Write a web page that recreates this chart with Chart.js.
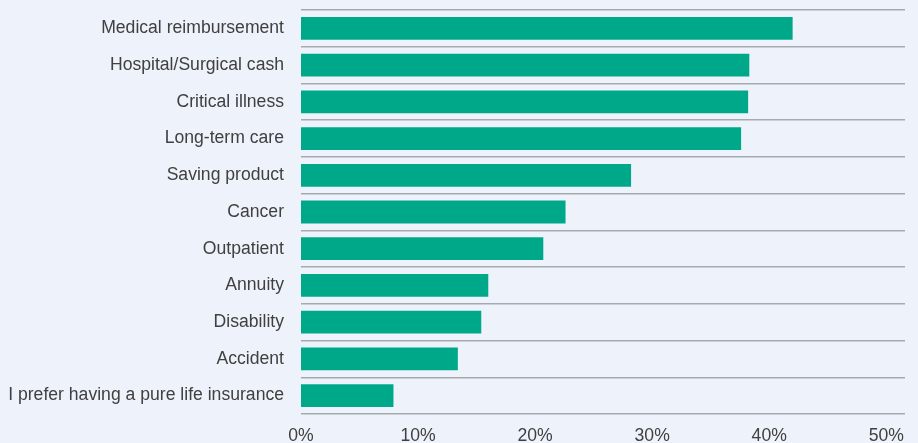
<!DOCTYPE html>
<html lang="en">
<head>
    <meta charset="UTF-8">
    <title>Preferred insurance products</title>
    <script src="https://cdn.jsdelivr.net/npm/chart.js@4.4.1/dist/chart.umd.min.js"></script>
    <style>
        html, body { margin: 0; padding: 0; background: #eef3fb; overflow: hidden; }
        #myChart { display: block; }
    </style>
</head>
<body>
<canvas id="myChart" width="918" height="455"></canvas>
<script>
    const productLabels = [
        'Medical reimbursement',
        'Hospital/Surgical cash',
        'Critical illness',
        'Long-term care',
        'Saving product',
        'Cancer',
        'Outpatient',
        'Annuity',
        'Disability',
        'Accident',
        'I prefer having a pure life insurance'
    ];
    const shareValues = [42.0, 38.3, 38.2, 37.6, 28.2, 22.6, 20.7, 16.0, 15.4, 13.4, 7.9];
    const tickValues = [0, 10, 20, 30, 40, 50];

    const textColor = '#404040';
    const fontSpec = { family: "'Liberation Sans', Arial, sans-serif", size: 17.6 };

    let ctx = document.getElementById('myChart').getContext('2d');
    let chart = new Chart(ctx, {
        type: 'bar',
        data: {
            labels: productLabels,
            datasets: [{
                data: shareValues,
                backgroundColor: '#00a88a',
                borderWidth: 0,
                barPercentage: 0.62,
                categoryPercentage: 1
            }]
        },
        options: {
            indexAxis: 'y',
            responsive: false,
            animation: false,
            layout: { padding: { top: 10, right: 13, bottom: 9, left: 0 } },
            plugins: {
                legend: { display: false },
                tooltip: { enabled: false }
            },
            scales: {
                x: {
                    min: 0,
                    max: 51.6,
                    afterBuildTicks: function (scale) {
                        scale.ticks = tickValues.map(v => ({ value: v }));
                    },
                    // fixed axis band under the bars
                    afterFit: function (scale) { scale.height = 32; },
                    grid: { display: false, drawTicks: false },
                    border: { display: false },
                    ticks: {
                        padding: 12,
                        maxRotation: 0,
                        color: textColor,
                        font: fontSpec,
                        callback: v => v + '%'
                    }
                },
                y: {
                    afterFit: function (scale) {
                        scale.width = 301;
                        scale.paddingTop = 0;
                        scale.paddingBottom = 0;
                    },
                    grid: {
                        offset: true,
                        drawTicks: false,
                        color: '#a6a9b0',
                        lineWidth: 1.5
                    },
                    border: { display: false },
                    ticks: {
                        padding: 17,
                        color: textColor,
                        font: fontSpec
                    }
                }
            }
        }
    });
</script>
</body>
</html>
